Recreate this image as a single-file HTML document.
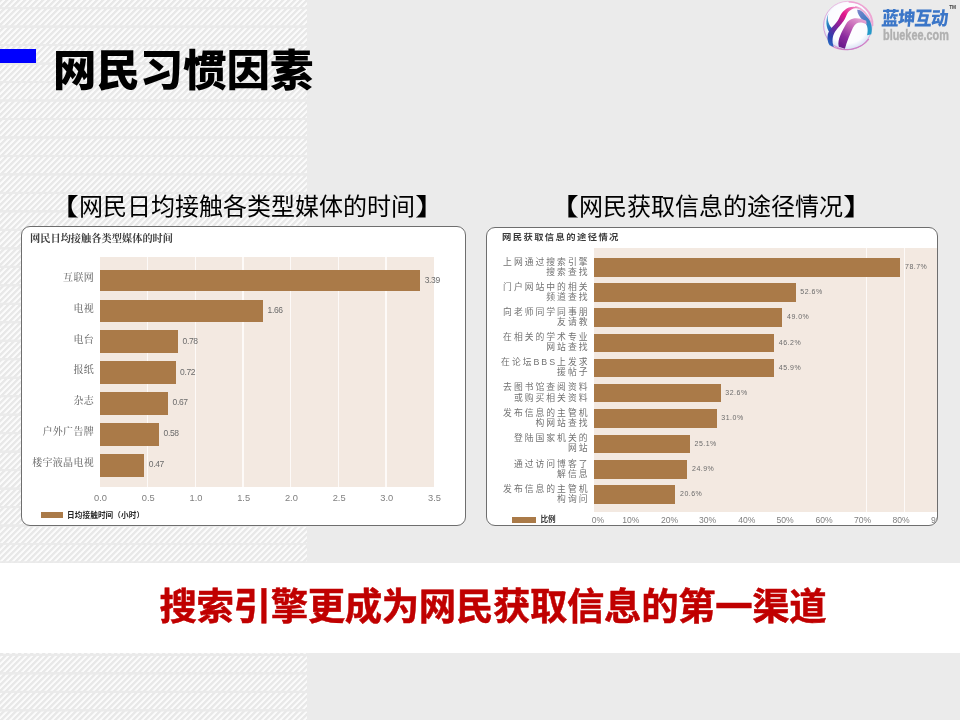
<!DOCTYPE html>
<html lang="zh-CN">
<head>
<meta charset="utf-8">
<title>网民习惯因素</title>
<style>
html,body{margin:0;padding:0;}
body{width:960px;height:720px;overflow:hidden;position:relative;background:#ebebeb;
  font-family:"Liberation Sans","Noto Sans CJK SC",sans-serif;}
.abs,.card div,.card span{position:absolute;}
#stripes{left:0;top:0;width:307px;height:720px;
  background:
   repeating-linear-gradient(180deg, rgba(234,234,234,0) 0, rgba(234,234,234,0) 6.6px, rgba(234,234,234,.92) 7.2px, rgba(234,234,234,.92) 9px, rgba(234,234,234,0) 9.6px, rgba(234,234,234,0) 18.48px),
   repeating-linear-gradient(135deg, #e8e8e8 0, #e8e8e8 1.65px, #fbfbfb 2.3px, #fbfbfb 3.65px, #e8e8e8 4.243px);
}
#bluebar{left:0;top:49px;width:36px;height:14px;background:#0000fe;}
#title{left:53px;top:41px;font-size:43.4px;font-weight:900;color:#000;line-height:60px;white-space:nowrap;}
.sub{font-size:24px;color:#000;white-space:nowrap;line-height:30px;}
.sub b{font-weight:400;display:inline-block;transform:scaleX(1.32);}
.sub b.l{transform-origin:100% 50%;}
.sub b.r{transform-origin:0 50%;}
#band{left:0;top:563px;width:960px;height:90px;background:#fff;}
#slogan{left:159.5px;top:580.5px;font-size:37.4px;font-weight:700;color:#c00000;line-height:52px;white-space:nowrap;letter-spacing:-0.34px;-webkit-text-stroke:0.5px #c00000;}
.card{background:#fff;border:1px solid #6e6e6e;border-radius:9px;box-sizing:border-box;overflow:hidden;}
.plot{background:#f3e9e1;}
.bar{background:#aa7a48;left:0;}
.g{background:#fdfaf8;width:1.25px;top:0;bottom:0;}
.ct{font-family:"Liberation Serif","Noto Serif CJK SC",serif;font-weight:700;color:#3c3c3c;white-space:nowrap;}
.cl{font-family:"Liberation Serif","Noto Serif CJK SC",serif;font-weight:500;color:#707070;white-space:nowrap;text-align:right;}
.cr{color:#727272;white-space:nowrap;text-align:right;}
.v{color:#6b6b6b;white-space:nowrap;}
.ax{color:#808080;white-space:nowrap;text-align:center;}
.lg{font-weight:700;color:#333;white-space:nowrap;}
</style>
</head>
<body>
<div id="stripes" class="abs"></div>
<div id="bluebar" class="abs"></div>
<div id="title" class="abs">网民习惯因素</div>

<svg class="abs" style="left:815px;top:0;" width="70" height="52" viewBox="0 0 960 713">
<defs>
<radialGradient id="sph" cx="0.5" cy="0.45" r="0.55">
<stop offset="0" stop-color="#ffffff"/><stop offset="0.75" stop-color="#fbfcff"/><stop offset="0.93" stop-color="#dfe6f6"/><stop offset="1" stop-color="#c9cfe8"/>
</radialGradient>
<linearGradient id="ra" x1="0.9" y1="0" x2="0.1" y2="1">
<stop offset="0" stop-color="#f08cc4"/><stop offset="0.3" stop-color="#e3178a"/><stop offset="0.6" stop-color="#7b249c"/><stop offset="0.85" stop-color="#2b3fae"/><stop offset="1" stop-color="#2a6fc4"/>
</linearGradient>
<linearGradient id="rb" x1="0.8" y1="0" x2="0.2" y2="1">
<stop offset="0" stop-color="#e6a6d4"/><stop offset="0.35" stop-color="#c565b6"/><stop offset="0.7" stop-color="#8a2a9e"/><stop offset="1" stop-color="#6a1a8c"/>
</linearGradient>
<linearGradient id="rc" x1="0" y1="0" x2="0.6" y2="1">
<stop offset="0" stop-color="#7d86cc"/><stop offset="0.5" stop-color="#4a7cc4"/><stop offset="1" stop-color="#229bc8"/>
</linearGradient>
<linearGradient id="rd" x1="0" y1="0" x2="0.4" y2="1">
<stop offset="0" stop-color="#8fb4e0"/><stop offset="0.5" stop-color="#2a8cc4"/><stop offset="1" stop-color="#2a52b4"/>
</linearGradient>
<linearGradient id="ring" x1="0.8" y1="0" x2="0.2" y2="1">
<stop offset="0" stop-color="#f1a9d6"/><stop offset="0.5" stop-color="#d98acb"/><stop offset="1" stop-color="#c66abf"/>
</linearGradient>
<filter id="bl" x="-5%" y="-5%" width="110%" height="110%"><feGaussianBlur stdDeviation="4"/></filter>
</defs>
<g filter="url(#bl)">
<circle cx="450" cy="350" r="338" fill="url(#sph)"/>
<circle cx="450" cy="350" r="332" fill="none" stroke="url(#ring)" stroke-width="12" opacity="0.75"/>
<path d="M470 28 C640 20 800 170 790 350" fill="none" stroke="#ee9fd0" stroke-width="22" stroke-linecap="round" opacity="0.9"/>
<path d="M225 628 C380 720 620 690 735 540" fill="none" stroke="#cf74c2" stroke-width="16" stroke-linecap="round" opacity="0.85"/>
<path d="M560 96 C640 110 720 190 760 300" fill="none" stroke="#e79acb" stroke-width="26" stroke-linecap="round" opacity="0.8"/>
<path d="M185 185 C160 270 190 350 242 395 L205 452 C150 380 138 280 185 185 Z" fill="url(#rd)"/>
<path d="M578 135 C640 128 682 200 722 245 C772 300 792 380 772 470 L714 482 C736 400 716 330 660 282 C610 236 584 190 578 135 Z" fill="url(#rc)"/>
<path d="M612 112 C482 58 380 128 330 250 C290 340 202 380 176 470 C164 522 174 582 200 622 L258 644 C226 562 240 470 292 410 C360 330 402 290 432 210 C452 150 522 98 612 112 Z" fill="url(#ra)"/>
<path d="M326 640 C300 540 380 420 420 340 C462 250 562 218 702 284 L708 332 C622 290 560 300 520 380 C480 470 440 560 410 668 Z" fill="url(#rb)"/>
</g>
</svg>
<div class="abs" style="left:882.2px;top:4.5px;font-size:17.4px;line-height:26px;font-weight:900;color:#3b76c8;letter-spacing:-0.85px;white-space:nowrap;transform:skewX(-5deg) scaleY(1.08);transform-origin:0 30%;">蓝坤互动</div>
<div class="abs" style="left:882.5px;top:27px;font-size:14.6px;line-height:16px;font-weight:700;color:#b0b0b0;white-space:nowrap;-webkit-text-stroke:0.4px #b0b0b0;transform:scaleX(0.745);transform-origin:0 0;">bluekee.com</div>
<div class="abs" style="left:949.2px;top:5.3px;font-size:4.8px;line-height:6px;font-weight:700;color:#444;white-space:nowrap;">TM</div>

<div class="abs sub" style="left:55px;top:192px;"><b class="l">【</b>网民日均接触各类型媒体的时间<b class="r">】</b></div>
<div class="abs sub" style="left:555px;top:192px;"><b class="l">【</b>网民获取信息的途径情况<b class="r">】</b></div>
<div class="abs card" style="left:20.5px;top:226px;width:445.5px;height:299.5px;">
<div class="ct" style="left:8.5px;top:5.6px;font-size:10.2px;line-height:12px;letter-spacing:0.03px;">网民日均接触各类型媒体的时间</div>
<div class="plot" style="left:78.5px;top:29.7px;width:334.3px;height:229.9px;">
<div class="g" style="left:46.82px;"></div>
<div class="g" style="left:94.54px;"></div>
<div class="g" style="left:142.26px;"></div>
<div class="g" style="left:189.98px;"></div>
<div class="g" style="left:237.7px;"></div>
<div class="g" style="left:285.42px;"></div>
<div class="bar" style="top:13px;width:320.2px;height:21.6px;"></div>
<div class="bar" style="top:43.6px;width:163px;height:21.7px;"></div>
<div class="bar" style="top:73.8px;width:78px;height:22.5px;"></div>
<div class="bar" style="top:104.6px;width:75.5px;height:22.7px;"></div>
<div class="bar" style="top:135.3px;width:68px;height:22.7px;"></div>
<div class="bar" style="top:166.3px;width:59px;height:22.7px;"></div>
<div class="bar" style="top:197px;width:44.3px;height:23px;"></div>
</div>
<div class="cl" style="left:2.5px;top:44.3px;width:70px;font-size:10px;line-height:14px;letter-spacing:0.3px;">互联网</div>
<div class="v" style="left:403.2px;top:47.5px;font-size:8.5px;line-height:10px;letter-spacing:-0.35px;">3.39</div>
<div class="cl" style="left:2.5px;top:74.95px;width:70px;font-size:10px;line-height:14px;letter-spacing:0.3px;">电视</div>
<div class="v" style="left:246px;top:78.15px;font-size:8.5px;line-height:10px;letter-spacing:-0.35px;">1.66</div>
<div class="cl" style="left:2.5px;top:105.55px;width:70px;font-size:10px;line-height:14px;letter-spacing:0.3px;">电台</div>
<div class="v" style="left:161px;top:108.75px;font-size:8.5px;line-height:10px;letter-spacing:-0.35px;">0.78</div>
<div class="cl" style="left:2.5px;top:136.45px;width:70px;font-size:10px;line-height:14px;letter-spacing:0.3px;">报纸</div>
<div class="v" style="left:158.5px;top:139.65px;font-size:8.5px;line-height:10px;letter-spacing:-0.35px;">0.72</div>
<div class="cl" style="left:2.5px;top:167.15px;width:70px;font-size:10px;line-height:14px;letter-spacing:0.3px;">杂志</div>
<div class="v" style="left:151px;top:170.35px;font-size:8.5px;line-height:10px;letter-spacing:-0.35px;">0.67</div>
<div class="cl" style="left:2.5px;top:198.15px;width:70px;font-size:10px;line-height:14px;letter-spacing:0.3px;">户外广告牌</div>
<div class="v" style="left:142px;top:201.35px;font-size:8.5px;line-height:10px;letter-spacing:-0.35px;">0.58</div>
<div class="cl" style="left:2.5px;top:229px;width:70px;font-size:10px;line-height:14px;letter-spacing:0.3px;">楼宇液晶电视</div>
<div class="v" style="left:127.3px;top:232.2px;font-size:8.5px;line-height:10px;letter-spacing:-0.35px;">0.47</div>
<div class="ax" style="left:64px;top:265px;width:30px;font-size:9.3px;line-height:12px;">0.0</div>
<div class="ax" style="left:111.72px;top:265px;width:30px;font-size:9.3px;line-height:12px;">0.5</div>
<div class="ax" style="left:159.44px;top:265px;width:30px;font-size:9.3px;line-height:12px;">1.0</div>
<div class="ax" style="left:207.16px;top:265px;width:30px;font-size:9.3px;line-height:12px;">1.5</div>
<div class="ax" style="left:254.88px;top:265px;width:30px;font-size:9.3px;line-height:12px;">2.0</div>
<div class="ax" style="left:302.6px;top:265px;width:30px;font-size:9.3px;line-height:12px;">2.5</div>
<div class="ax" style="left:350.32px;top:265px;width:30px;font-size:9.3px;line-height:12px;">3.0</div>
<div class="ax" style="left:398.04px;top:265px;width:30px;font-size:9.3px;line-height:12px;">3.5</div>
<div class="bar" style="left:19px;top:285px;width:22.5px;height:5.5px;"></div>
<div class="lg" style="left:45.5px;top:283.6px;font-size:7.6px;line-height:10px;letter-spacing:0.13px;color:#262626;">日均接触时间（小时）</div>
</div>
<div class="abs card" style="left:486px;top:227px;width:452px;height:299px;">
<div class="lg" style="left:15px;top:4.5px;font-size:8.2px;line-height:10px;letter-spacing:1.25px;color:#3a3a3a;transform:scaleX(1.135);transform-origin:0 0;">网民获取信息的途径情况</div>
<div class="plot" style="left:106.8px;top:19.5px;width:346.2px;height:264.3px;">
<div class="g" style="left:272px;"></div>
<div class="g" style="left:310.2px;"></div>
<div class="bar" style="top:10.3px;width:306.7px;height:18.9px;"></div>
<div class="bar" style="top:35.2px;width:202px;height:19.1px;"></div>
<div class="bar" style="top:60.3px;width:188.7px;height:18.9px;"></div>
<div class="bar" style="top:86.2px;width:180.5px;height:18.3px;"></div>
<div class="bar" style="top:111px;width:180.5px;height:18.7px;"></div>
<div class="bar" style="top:136.3px;width:127px;height:18.4px;"></div>
<div class="bar" style="top:161.8px;width:123px;height:18.7px;"></div>
<div class="bar" style="top:187.1px;width:96.2px;height:18.4px;"></div>
<div class="bar" style="top:212.5px;width:93.7px;height:18.8px;"></div>
<div class="bar" style="top:237.7px;width:81.7px;height:18.6px;"></div>
</div>
<div class="cr" style="left:2.5px;top:28.65px;width:100px;font-size:8.8px;line-height:10.2px;letter-spacing:2px;">上网通过搜索引擎<br>搜索查找</div>
<div class="v" style="left:418px;top:34.05px;font-size:7px;line-height:10px;letter-spacing:0.5px;">78.7%</div>
<div class="cr" style="left:2.5px;top:53.65px;width:100px;font-size:8.8px;line-height:10.2px;letter-spacing:2px;">门户网站中的相关<br>频道查找</div>
<div class="v" style="left:313.3px;top:59.05px;font-size:7px;line-height:10px;letter-spacing:0.5px;">52.6%</div>
<div class="cr" style="left:2.5px;top:78.65px;width:100px;font-size:8.8px;line-height:10.2px;letter-spacing:2px;">向老师同学同事朋<br>友请教</div>
<div class="v" style="left:300px;top:84.05px;font-size:7px;line-height:10px;letter-spacing:0.5px;">49.0%</div>
<div class="cr" style="left:2.5px;top:104.25px;width:100px;font-size:8.8px;line-height:10.2px;letter-spacing:2px;">在相关的学术专业<br>网站查找</div>
<div class="v" style="left:291.8px;top:109.65px;font-size:7px;line-height:10px;letter-spacing:0.5px;">46.2%</div>
<div class="cr" style="left:2.5px;top:129.25px;width:100px;font-size:8.8px;line-height:10.2px;letter-spacing:2px;">在论坛BBS上发求<br>援帖子</div>
<div class="v" style="left:291.8px;top:134.65px;font-size:7px;line-height:10px;letter-spacing:0.5px;">45.9%</div>
<div class="cr" style="left:2.5px;top:154.4px;width:100px;font-size:8.8px;line-height:10.2px;letter-spacing:2px;">去图书馆查阅资料<br>或购买相关资料</div>
<div class="v" style="left:238.3px;top:159.8px;font-size:7px;line-height:10px;letter-spacing:0.5px;">32.6%</div>
<div class="cr" style="left:2.5px;top:180.05px;width:100px;font-size:8.8px;line-height:10.2px;letter-spacing:2px;">发布信息的主管机<br>构网站查找</div>
<div class="v" style="left:234.3px;top:185.45px;font-size:7px;line-height:10px;letter-spacing:0.5px;">31.0%</div>
<div class="cr" style="left:2.5px;top:205.2px;width:100px;font-size:8.8px;line-height:10.2px;letter-spacing:2px;">登陆国家机关的<br>网站</div>
<div class="v" style="left:207.5px;top:210.6px;font-size:7px;line-height:10px;letter-spacing:0.5px;">25.1%</div>
<div class="cr" style="left:2.5px;top:230.8px;width:100px;font-size:8.8px;line-height:10.2px;letter-spacing:2px;">通过访问博客了<br>解信息</div>
<div class="v" style="left:205px;top:236.2px;font-size:7px;line-height:10px;letter-spacing:0.5px;">24.9%</div>
<div class="cr" style="left:2.5px;top:255.9px;width:100px;font-size:8.8px;line-height:10.2px;letter-spacing:2px;">发布信息的主管机<br>构询问</div>
<div class="v" style="left:193px;top:261.3px;font-size:7px;line-height:10px;letter-spacing:0.5px;">20.6%</div>
<div class="ax" style="left:96px;top:285.6px;width:30px;font-size:8.6px;line-height:12px;">0%</div>
<div class="ax" style="left:128.8px;top:285.6px;width:30px;font-size:8.6px;line-height:12px;">10%</div>
<div class="ax" style="left:167.5px;top:285.6px;width:30px;font-size:8.6px;line-height:12px;">20%</div>
<div class="ax" style="left:205.5px;top:285.6px;width:30px;font-size:8.6px;line-height:12px;">30%</div>
<div class="ax" style="left:244.8px;top:285.6px;width:30px;font-size:8.6px;line-height:12px;">40%</div>
<div class="ax" style="left:283px;top:285.6px;width:30px;font-size:8.6px;line-height:12px;">50%</div>
<div class="ax" style="left:322px;top:285.6px;width:30px;font-size:8.6px;line-height:12px;">60%</div>
<div class="ax" style="left:360.5px;top:285.6px;width:30px;font-size:8.6px;line-height:12px;">70%</div>
<div class="ax" style="left:399px;top:285.6px;width:30px;font-size:8.6px;line-height:12px;">80%</div>
<div class="ax" style="left:437.5px;top:285.6px;width:30px;font-size:8.6px;line-height:12px;">90%</div>
<div class="bar" style="left:25px;top:289px;width:23.5px;height:5.5px;"></div>
<div class="lg" style="left:53.5px;top:286.6px;font-size:7.6px;line-height:10px;">比例</div>
</div>
<div id="band" class="abs"></div>
<div id="slogan" class="abs">搜索引擎更成为网民获取信息的第一渠道</div>
</body>
</html>
